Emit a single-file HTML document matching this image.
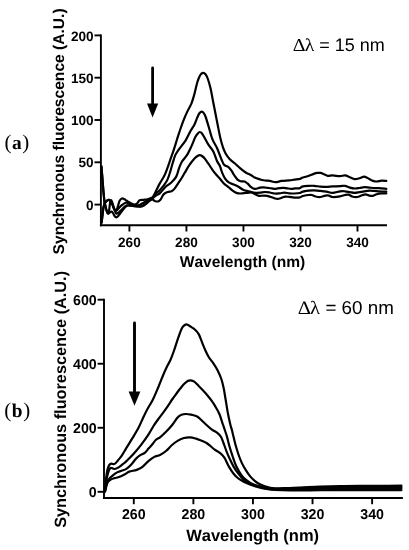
<!DOCTYPE html>
<html lang="en">
<head>
<meta charset="utf-8">
<title>Synchronous fluorescence spectra</title>
<style>
html, body { margin: 0; padding: 0; background: #ffffff; }
body { width: 409px; height: 550px; overflow: hidden; }
svg { display: block; filter: grayscale(100%); }
.sans { font-family: "Liberation Sans", Arial, Helvetica, sans-serif; }
.serif { font-family: "Liberation Serif", "Times New Roman", Times, serif; }
.b { font-weight: bold; }
.ax path { stroke: #000; stroke-width: 1.9; fill: none; stroke-linecap: butt; }
.cv path { stroke: #000; stroke-width: 2.2; fill: none; stroke-linecap: round; stroke-linejoin: round; }
text { fill: #000; font-kerning: none; text-rendering: geometricPrecision; }
</style>
</head>
<body>
<svg width="409" height="550" viewBox="0 0 409 550">
<rect x="0" y="0" width="409" height="550" fill="#ffffff"/>

<!-- panel labels -->
<text class="serif" x="4.4" y="148.8" font-size="21" letter-spacing="0.6">(<tspan class="b" font-size="19.4">a</tspan>)</text>
<text class="serif" x="4.2" y="416.8" font-size="21" letter-spacing="0.6">(<tspan class="b" font-size="19.4">b</tspan>)</text>

<!-- ================= chart (a) ================= -->
<g class="ax">
<path d="M100.90,34.40 V226.30" />
<path d="M99.90,225.30 H387.00" />
<path d="M94.50,204.60 H100.90" />
<path d="M94.50,162.30 H100.90" />
<path d="M94.50,120.00 H100.90" />
<path d="M94.50,77.70 H100.90" />
<path d="M94.50,35.40 H100.90" />
<path d="M129.41,225.30 V231.50" />
<path d="M186.43,225.30 V231.50" />
<path d="M243.45,225.30 V231.50" />
<path d="M300.47,225.30 V231.50" />
<path d="M357.49,225.30 V231.50" />
</g>
<g class="sans b">
<text x="93.60" y="209.75" text-anchor="end" font-size="13.6">0</text>
<text x="93.60" y="167.45" text-anchor="end" font-size="13.6">50</text>
<text x="93.60" y="125.15" text-anchor="end" font-size="13.6">100</text>
<text x="93.60" y="82.85" text-anchor="end" font-size="13.6">150</text>
<text x="93.60" y="40.55" text-anchor="end" font-size="13.6">200</text>
<text x="129.41" y="246.50" text-anchor="middle" font-size="13.6">260</text>
<text x="186.43" y="246.50" text-anchor="middle" font-size="13.6">280</text>
<text x="243.45" y="246.50" text-anchor="middle" font-size="13.6">300</text>
<text x="300.47" y="246.50" text-anchor="middle" font-size="13.6">320</text>
<text x="357.49" y="246.50" text-anchor="middle" font-size="13.6">340</text>
<text x="242.5" y="267.1" text-anchor="middle" font-size="15.6">Wavelength (nm)</text>
<text transform="translate(64.3,131.4) rotate(-90)" text-anchor="middle" font-size="15.6">Synchronous fluorescence (A.U.)</text>
</g>
<text class="serif" transform="translate(292.7,51.2) scale(1.1,1)" font-size="18" letter-spacing="-0.6">Δλ</text>
<text class="sans" x="384.8" y="51.2" text-anchor="end" font-size="18">= 15 nm</text>
<g class="cv">
<path d="M101.60,222.60 C101.75,221.33 102.18,217.52 102.50,215.00 C102.82,212.48 103.08,209.50 103.50,207.50 C103.92,205.50 104.45,204.12 105.00,203.00 C105.55,201.88 106.15,201.32 106.80,200.80 C107.45,200.28 108.23,199.83 108.90,199.90 C109.57,199.97 110.18,200.42 110.80,201.20 C111.42,201.98 112.03,203.30 112.60,204.60 C113.17,205.90 113.70,207.67 114.20,209.00 C114.70,210.33 115.17,211.83 115.60,212.60 C116.03,213.37 116.30,213.60 116.80,213.60 C117.30,213.60 117.82,213.23 118.60,212.60 C119.38,211.97 120.57,210.70 121.50,209.80 C122.43,208.90 123.28,207.95 124.20,207.20 C125.12,206.45 125.87,205.55 127.00,205.30 C128.13,205.05 129.72,205.55 131.00,205.70 C132.28,205.85 133.45,206.07 134.70,206.20 C135.95,206.33 137.20,206.48 138.50,206.50 C139.80,206.52 141.22,206.78 142.50,206.30 C143.78,205.82 145.03,204.58 146.20,203.60 C147.37,202.62 148.47,201.28 149.50,200.40 C150.53,199.52 151.33,199.83 152.40,198.30 C153.47,196.77 154.67,193.68 155.90,191.20 C157.13,188.72 158.40,185.97 159.80,183.40 C161.20,180.83 163.03,178.33 164.30,175.80 C165.57,173.27 166.38,170.93 167.40,168.20 C168.42,165.47 169.37,162.38 170.40,159.40 C171.43,156.42 172.50,153.62 173.60,150.30 C174.70,146.98 175.87,143.05 177.00,139.50 C178.13,135.95 179.23,132.38 180.40,129.00 C181.57,125.62 182.83,122.13 184.00,119.20 C185.17,116.27 186.15,114.05 187.40,111.40 C188.65,108.75 190.32,106.25 191.50,103.30 C192.68,100.35 193.52,97.25 194.50,93.70 C195.48,90.15 196.43,85.12 197.40,82.00 C198.37,78.88 199.37,76.52 200.30,75.00 C201.23,73.48 202.13,73.03 203.00,72.90 C203.87,72.77 204.72,73.27 205.50,74.20 C206.28,75.13 206.85,76.12 207.70,78.50 C208.55,80.88 209.75,84.92 210.60,88.50 C211.45,92.08 212.02,95.97 212.80,100.00 C213.58,104.03 214.47,108.45 215.30,112.70 C216.13,116.95 216.95,121.25 217.80,125.50 C218.65,129.75 219.55,134.60 220.40,138.20 C221.25,141.80 222.03,144.55 222.90,147.10 C223.77,149.65 224.45,151.48 225.60,153.50 C226.75,155.52 228.23,157.53 229.80,159.20 C231.37,160.87 233.25,161.97 235.00,163.50 C236.75,165.03 238.52,166.90 240.30,168.40 C242.08,169.90 243.95,171.40 245.70,172.50 C247.45,173.60 249.10,174.07 250.80,175.00 C252.50,175.93 254.03,177.27 255.90,178.10 C257.77,178.93 260.32,179.58 262.00,180.00 C263.68,180.42 264.67,180.45 266.00,180.60 C267.33,180.75 268.40,180.63 270.00,180.90 C271.60,181.17 273.68,182.20 275.60,182.20 C277.52,182.20 279.22,181.20 281.50,180.90 C283.78,180.60 287.18,180.60 289.30,180.40 C291.42,180.20 292.42,179.95 294.20,179.70 C295.98,179.45 298.68,179.22 300.00,178.90 C301.32,178.58 300.73,178.28 302.10,177.80 C303.47,177.32 306.17,176.70 308.20,176.00 C310.23,175.30 312.75,174.12 314.30,173.60 C315.85,173.08 316.48,173.02 317.50,172.90 C318.52,172.78 319.30,172.68 320.40,172.90 C321.50,173.12 322.87,173.72 324.10,174.20 C325.33,174.68 326.37,175.60 327.80,175.80 C329.23,176.00 330.67,175.33 332.70,175.40 C334.73,175.47 337.97,176.20 340.00,176.20 C342.03,176.20 343.27,175.23 344.90,175.40 C346.53,175.57 348.17,176.58 349.80,177.20 C351.43,177.82 353.07,178.93 354.70,179.10 C356.33,179.27 357.98,178.62 359.60,178.20 C361.22,177.78 362.78,176.45 364.40,176.60 C366.02,176.75 367.87,178.38 369.30,179.10 C370.73,179.82 371.77,180.50 373.00,180.90 C374.23,181.30 375.27,181.55 376.70,181.50 C378.13,181.45 380.00,180.70 381.60,180.60 C383.20,180.50 385.52,180.85 386.30,180.90" />
<path d="M101.40,166.40 C101.55,168.17 101.97,172.90 102.30,177.00 C102.63,181.10 103.03,186.75 103.40,191.00 C103.77,195.25 104.28,200.50 104.50,202.50 C104.72,204.50 104.43,201.92 104.70,203.00 C104.97,204.08 105.65,207.37 106.10,209.00 C106.55,210.63 107.05,212.07 107.40,212.80 C107.75,213.53 107.93,213.67 108.20,213.40 C108.47,213.13 108.75,212.52 109.00,211.20 C109.25,209.88 109.47,207.17 109.70,205.50 C109.93,203.83 110.13,202.07 110.40,201.20 C110.67,200.33 110.95,199.97 111.30,200.30 C111.65,200.63 112.08,201.98 112.50,203.20 C112.92,204.42 113.32,206.45 113.80,207.60 C114.28,208.75 114.87,209.87 115.40,210.10 C115.93,210.33 116.52,209.85 117.00,209.00 C117.48,208.15 117.87,206.37 118.30,205.00 C118.73,203.63 118.98,201.88 119.60,200.80 C120.22,199.72 121.18,198.75 122.00,198.50 C122.82,198.25 123.70,198.92 124.50,199.30 C125.30,199.68 125.75,200.15 126.80,200.80 C127.85,201.45 129.48,202.55 130.80,203.20 C132.12,203.85 133.58,204.73 134.70,204.70 C135.82,204.67 136.68,203.73 137.50,203.00 C138.32,202.27 138.60,200.83 139.60,200.30 C140.60,199.77 142.20,199.97 143.50,199.80 C144.80,199.63 145.93,199.68 147.40,199.30 C148.87,198.92 151.03,198.38 152.30,197.50 C153.57,196.62 153.72,195.23 155.00,194.00 C156.28,192.77 158.07,192.22 160.00,190.10 C161.93,187.98 165.02,183.98 166.60,181.30 C168.18,178.62 168.52,176.93 169.50,174.00 C170.48,171.07 171.52,166.88 172.50,163.70 C173.48,160.52 174.30,157.33 175.40,154.90 C176.50,152.47 177.38,151.53 179.10,149.10 C180.82,146.67 183.80,143.32 185.70,140.30 C187.60,137.28 189.03,133.63 190.50,131.00 C191.97,128.37 193.35,126.80 194.50,124.50 C195.65,122.20 196.52,119.15 197.40,117.20 C198.28,115.25 199.07,113.73 199.80,112.80 C200.53,111.87 201.17,111.60 201.80,111.60 C202.43,111.60 202.98,111.98 203.60,112.80 C204.22,113.62 204.67,114.22 205.50,116.50 C206.33,118.78 207.45,122.72 208.60,126.50 C209.75,130.28 211.00,135.62 212.40,139.20 C213.80,142.78 215.57,144.85 217.00,148.00 C218.43,151.15 219.82,155.30 221.00,158.10 C222.18,160.90 222.90,163.35 224.10,164.80 C225.30,166.25 227.00,165.87 228.20,166.80 C229.40,167.73 230.27,168.95 231.30,170.40 C232.33,171.85 233.37,173.97 234.40,175.50 C235.43,177.03 236.48,178.65 237.50,179.60 C238.52,180.55 239.32,180.88 240.50,181.20 C241.68,181.52 243.40,181.08 244.60,181.50 C245.80,181.92 246.67,182.82 247.70,183.70 C248.73,184.58 249.60,185.93 250.80,186.80 C252.00,187.67 253.37,188.77 254.90,188.90 C256.43,189.03 258.50,187.85 260.00,187.60 C261.50,187.35 262.60,187.35 263.90,187.40 C265.20,187.45 266.50,187.73 267.80,187.90 C269.10,188.07 270.40,188.25 271.70,188.40 C273.00,188.55 274.28,188.85 275.60,188.80 C276.92,188.75 278.28,188.27 279.60,188.10 C280.92,187.93 282.20,187.75 283.50,187.80 C284.80,187.85 286.10,188.23 287.40,188.40 C288.70,188.57 290.00,188.80 291.30,188.80 C292.60,188.80 293.75,188.52 295.20,188.40 C296.65,188.28 298.85,188.40 300.00,188.10 C301.15,187.80 300.73,186.97 302.10,186.60 C303.47,186.23 306.17,186.03 308.20,185.90 C310.23,185.77 312.27,185.67 314.30,185.80 C316.33,185.93 318.35,186.53 320.40,186.70 C322.45,186.87 324.55,186.85 326.60,186.80 C328.65,186.75 330.47,186.50 332.70,186.40 C334.93,186.30 337.97,186.30 340.00,186.20 C342.03,186.10 343.27,185.57 344.90,185.80 C346.53,186.03 348.17,187.15 349.80,187.60 C351.43,188.05 353.07,188.43 354.70,188.50 C356.33,188.57 357.98,188.22 359.60,188.00 C361.22,187.78 362.78,187.27 364.40,187.20 C366.02,187.13 367.67,187.47 369.30,187.60 C370.93,187.73 372.57,187.90 374.20,188.00 C375.83,188.10 377.08,188.07 379.10,188.20 C381.12,188.33 385.10,188.70 386.30,188.80" />
<path d="M101.60,222.60 C101.75,221.33 102.18,217.55 102.50,215.00 C102.82,212.45 103.03,209.38 103.50,207.30 C103.97,205.22 104.72,203.62 105.30,202.50 C105.88,201.38 106.38,201.03 107.00,200.60 C107.62,200.17 108.35,199.73 109.00,199.90 C109.65,200.07 110.30,200.70 110.90,201.60 C111.50,202.50 112.05,204.02 112.60,205.30 C113.15,206.58 113.67,208.35 114.20,209.30 C114.73,210.25 115.23,210.95 115.80,211.00 C116.37,211.05 116.93,210.27 117.60,209.60 C118.27,208.93 119.07,207.77 119.80,207.00 C120.53,206.23 121.02,205.70 122.00,205.00 C122.98,204.30 124.62,203.08 125.70,202.80 C126.78,202.52 127.45,202.97 128.50,203.30 C129.55,203.63 130.75,204.45 132.00,204.80 C133.25,205.15 134.67,205.42 136.00,205.40 C137.33,205.38 138.75,205.13 140.00,204.70 C141.25,204.27 142.33,203.50 143.50,202.80 C144.67,202.10 145.83,201.10 147.00,200.50 C148.17,199.90 149.53,199.62 150.50,199.20 C151.47,198.78 151.88,198.62 152.80,198.00 C153.72,197.38 154.80,196.32 156.00,195.50 C157.20,194.68 158.35,194.60 160.00,193.10 C161.65,191.60 164.07,188.22 165.90,186.50 C167.73,184.78 169.30,184.40 171.00,182.80 C172.70,181.20 174.75,179.35 176.10,176.90 C177.45,174.45 178.12,170.67 179.10,168.10 C180.08,165.53 180.67,163.70 182.00,161.50 C183.33,159.30 185.52,157.47 187.10,154.90 C188.68,152.33 190.15,149.03 191.50,146.10 C192.85,143.17 194.15,139.40 195.20,137.30 C196.25,135.20 197.03,134.38 197.80,133.50 C198.57,132.62 199.13,132.05 199.80,132.00 C200.47,131.95 201.10,132.40 201.80,133.20 C202.50,134.00 202.90,134.88 204.00,136.80 C205.10,138.72 206.85,142.25 208.40,144.70 C209.95,147.15 211.87,148.78 213.30,151.50 C214.73,154.22 215.88,158.53 217.00,161.00 C218.12,163.47 219.15,164.38 220.00,166.30 C220.85,168.22 221.25,170.45 222.10,172.50 C222.95,174.55 223.92,176.90 225.10,178.60 C226.28,180.30 227.65,181.67 229.20,182.70 C230.75,183.73 232.85,184.12 234.40,184.80 C235.95,185.48 237.13,186.03 238.50,186.80 C239.87,187.57 241.23,188.72 242.60,189.40 C243.97,190.08 245.33,190.48 246.70,190.90 C248.07,191.32 249.43,191.38 250.80,191.90 C252.17,192.42 253.70,193.40 254.90,194.00 C256.10,194.60 257.15,195.18 258.00,195.50 C258.85,195.82 258.85,195.88 260.00,195.90 C261.15,195.92 263.27,195.48 264.90,195.60 C266.53,195.72 268.17,196.13 269.80,196.60 C271.43,197.07 273.40,198.02 274.70,198.40 C276.00,198.78 276.47,198.98 277.60,198.90 C278.73,198.82 280.20,198.28 281.50,197.90 C282.80,197.52 284.10,196.77 285.40,196.60 C286.70,196.43 287.83,196.73 289.30,196.90 C290.77,197.07 292.42,197.52 294.20,197.60 C295.98,197.68 298.68,197.63 300.00,197.40 C301.32,197.17 300.73,196.60 302.10,196.20 C303.47,195.80 306.57,195.20 308.20,195.00 C309.83,194.80 310.67,194.75 311.90,195.00 C313.13,195.25 314.18,196.17 315.60,196.50 C317.02,196.83 318.78,197.15 320.40,197.00 C322.02,196.85 323.87,195.83 325.30,195.60 C326.73,195.37 327.77,195.37 329.00,195.60 C330.23,195.83 330.87,196.87 332.70,197.00 C334.53,197.13 337.97,196.73 340.00,196.40 C342.03,196.07 343.47,195.30 344.90,195.00 C346.33,194.70 347.38,194.35 348.60,194.60 C349.82,194.85 350.78,196.10 352.20,196.50 C353.62,196.90 355.47,197.20 357.10,197.00 C358.73,196.80 360.57,195.75 362.00,195.30 C363.43,194.85 364.48,194.25 365.70,194.30 C366.92,194.35 368.08,195.35 369.30,195.60 C370.52,195.85 371.77,196.02 373.00,195.80 C374.23,195.58 375.27,194.70 376.70,194.30 C378.13,193.90 380.00,193.55 381.60,193.40 C383.20,193.25 385.52,193.40 386.30,193.40" />
<path d="M101.40,166.40 C101.55,168.17 101.97,172.90 102.30,177.00 C102.63,181.10 103.02,186.67 103.40,191.00 C103.78,195.33 104.35,200.92 104.60,203.00 C104.85,205.08 104.62,202.42 104.90,203.50 C105.18,204.58 105.85,207.92 106.30,209.50 C106.75,211.08 107.22,212.33 107.60,213.00 C107.98,213.67 108.20,213.63 108.60,213.50 C109.00,213.37 109.50,212.52 110.00,212.20 C110.50,211.88 111.10,211.47 111.60,211.60 C112.10,211.73 112.52,212.30 113.00,213.00 C113.48,213.70 114.02,215.08 114.50,215.80 C114.98,216.52 115.40,217.15 115.90,217.30 C116.40,217.45 116.97,217.10 117.50,216.70 C118.03,216.30 118.43,215.73 119.10,214.90 C119.77,214.07 120.65,212.82 121.50,211.70 C122.35,210.58 123.25,209.20 124.20,208.20 C125.15,207.20 125.98,206.12 127.20,205.70 C128.42,205.28 130.20,205.63 131.50,205.70 C132.80,205.77 133.75,206.00 135.00,206.10 C136.25,206.20 137.75,206.32 139.00,206.30 C140.25,206.28 141.33,206.43 142.50,206.00 C143.67,205.57 144.83,204.57 146.00,203.70 C147.17,202.83 148.40,201.53 149.50,200.80 C150.60,200.07 151.78,199.28 152.60,199.30 C153.42,199.32 153.75,200.53 154.40,200.90 C155.05,201.27 155.80,201.45 156.50,201.50 C157.20,201.55 157.95,201.48 158.60,201.20 C159.25,200.92 159.85,200.45 160.40,199.80 C160.95,199.15 161.42,198.15 161.90,197.30 C162.38,196.45 162.73,195.42 163.30,194.70 C163.87,193.98 164.55,193.45 165.30,193.00 C166.05,192.55 166.75,192.30 167.80,192.00 C168.85,191.70 170.65,191.57 171.60,191.20 C172.55,190.83 172.85,190.45 173.50,189.80 C174.15,189.15 174.52,188.70 175.50,187.30 C176.48,185.90 178.32,183.03 179.40,181.40 C180.48,179.77 181.08,178.98 182.00,177.50 C182.92,176.02 183.68,174.55 184.90,172.50 C186.12,170.45 187.70,167.52 189.30,165.20 C190.90,162.88 193.13,160.13 194.50,158.60 C195.87,157.07 196.62,156.57 197.50,156.00 C198.38,155.43 199.05,155.20 199.80,155.20 C200.55,155.20 201.22,155.48 202.00,156.00 C202.78,156.52 203.43,157.02 204.50,158.30 C205.57,159.58 207.02,161.70 208.40,163.70 C209.78,165.70 211.37,168.33 212.80,170.30 C214.23,172.27 215.80,174.08 217.00,175.50 C218.20,176.92 218.82,177.43 220.00,178.80 C221.18,180.17 222.73,182.37 224.10,183.70 C225.47,185.03 226.83,185.68 228.20,186.80 C229.57,187.92 230.93,189.38 232.30,190.40 C233.67,191.42 235.03,192.38 236.40,192.90 C237.77,193.42 238.95,193.48 240.50,193.50 C242.05,193.52 243.98,193.17 245.70,193.00 C247.42,192.83 249.10,192.53 250.80,192.50 C252.50,192.47 254.37,192.77 255.90,192.80 C257.43,192.83 258.50,192.83 260.00,192.70 C261.50,192.57 263.27,192.03 264.90,192.00 C266.53,191.97 268.17,192.25 269.80,192.50 C271.43,192.75 273.07,193.37 274.70,193.50 C276.33,193.63 277.98,193.43 279.60,193.30 C281.22,193.17 282.78,192.70 284.40,192.70 C286.02,192.70 287.67,193.17 289.30,193.30 C290.93,193.43 292.42,193.55 294.20,193.50 C295.98,193.45 298.68,193.27 300.00,193.00 C301.32,192.73 300.73,192.28 302.10,191.90 C303.47,191.52 306.17,190.95 308.20,190.70 C310.23,190.45 312.27,190.37 314.30,190.40 C316.33,190.43 318.35,190.68 320.40,190.90 C322.45,191.12 324.55,191.37 326.60,191.70 C328.65,192.03 330.47,192.97 332.70,192.90 C334.93,192.83 337.97,191.57 340.00,191.30 C342.03,191.03 343.27,191.17 344.90,191.30 C346.53,191.43 348.17,191.83 349.80,192.10 C351.43,192.37 353.07,192.90 354.70,192.90 C356.33,192.90 357.98,192.37 359.60,192.10 C361.22,191.83 362.78,191.53 364.40,191.30 C366.02,191.07 367.67,190.77 369.30,190.70 C370.93,190.63 372.57,190.80 374.20,190.90 C375.83,191.00 377.08,191.17 379.10,191.30 C381.12,191.43 385.10,191.63 386.30,191.70" />
</g>
<!-- arrow a -->
<path d="M152.6,68 V105" stroke="#000" stroke-width="2.8" fill="none" stroke-linecap="round"/>
<path d="M147,103.6 L158.2,103.6 L152.6,117.4 Z" fill="#000"/>

<!-- ================= chart (b) ================= -->
<g class="ax">
<path d="M104.00,298.70 V499.00" />
<path d="M103.00,498.00 H402.90" />
<path d="M97.60,491.80 H104.00" />
<path d="M97.60,427.77 H104.00" />
<path d="M97.60,363.73 H104.00" />
<path d="M97.60,299.70 H104.00" />
<path d="M133.79,498.00 V504.20" />
<path d="M193.37,498.00 V504.20" />
<path d="M252.95,498.00 V504.20" />
<path d="M312.53,498.00 V504.20" />
<path d="M372.11,498.00 V504.20" />
</g>
<g class="sans b">
<text x="96.70" y="497.16" text-anchor="end" font-size="14.2">0</text>
<text x="96.70" y="433.13" text-anchor="end" font-size="14.2">200</text>
<text x="96.70" y="369.10" text-anchor="end" font-size="14.2">400</text>
<text x="96.70" y="305.06" text-anchor="end" font-size="14.2">600</text>
<text x="133.79" y="519.20" text-anchor="middle" font-size="14.2">260</text>
<text x="193.37" y="519.20" text-anchor="middle" font-size="14.2">280</text>
<text x="252.95" y="519.20" text-anchor="middle" font-size="14.2">300</text>
<text x="312.53" y="519.20" text-anchor="middle" font-size="14.2">320</text>
<text x="372.11" y="519.20" text-anchor="middle" font-size="14.2">340</text>
<text x="252.6" y="541" text-anchor="middle" font-size="16.5">Wavelength (nm)</text>
<text transform="translate(65.9,399.4) rotate(-90)" text-anchor="middle" font-size="16.3">Synchronous fluorescence (A.U.)</text>
</g>
<text class="serif" transform="translate(297.7,313.9) scale(1.1,1)" font-size="18.8" letter-spacing="-0.8">Δλ</text>
<text class="sans" x="393.8" y="313.9" text-anchor="end" font-size="18.8">= 60 nm</text>
<g class="cv">
<path d="M104.90,491.00 C105.02,489.83 105.37,486.37 105.60,484.00 C105.83,481.63 105.97,479.30 106.30,476.80 C106.63,474.30 107.10,470.97 107.60,469.00 C108.10,467.03 108.65,465.88 109.30,465.00 C109.95,464.12 110.77,463.83 111.50,463.70 C112.23,463.57 113.03,464.27 113.70,464.20 C114.37,464.13 114.77,463.97 115.50,463.30 C116.23,462.63 117.08,461.43 118.10,460.20 C119.12,458.97 120.22,457.95 121.60,455.90 C122.98,453.85 124.38,451.20 126.40,447.90 C128.42,444.60 131.62,439.58 133.70,436.10 C135.78,432.62 137.38,429.93 138.90,427.00 C140.42,424.07 141.42,421.42 142.80,418.50 C144.18,415.58 145.53,412.62 147.20,409.50 C148.87,406.38 150.93,403.55 152.80,399.80 C154.67,396.05 156.70,391.05 158.40,387.00 C160.10,382.95 161.57,378.92 163.00,375.50 C164.43,372.08 165.78,369.03 167.00,366.50 C168.22,363.97 169.18,362.80 170.30,360.30 C171.42,357.80 172.38,355.25 173.70,351.50 C175.02,347.75 176.83,341.68 178.20,337.80 C179.57,333.92 180.80,330.33 181.90,328.20 C183.00,326.07 183.95,325.62 184.80,325.00 C185.65,324.38 186.02,324.22 187.00,324.50 C187.98,324.78 189.35,325.83 190.70,326.70 C192.05,327.57 193.77,328.47 195.10,329.70 C196.43,330.93 197.60,332.15 198.70,334.10 C199.80,336.05 200.60,338.72 201.70,341.40 C202.80,344.08 204.08,347.52 205.30,350.20 C206.52,352.88 207.65,355.30 209.00,357.50 C210.35,359.70 211.93,361.20 213.40,363.40 C214.87,365.60 216.45,368.02 217.80,370.70 C219.15,373.38 220.52,376.57 221.50,379.50 C222.48,382.43 223.00,384.88 223.70,388.30 C224.40,391.72 224.98,395.75 225.70,400.00 C226.42,404.25 227.25,409.80 228.00,413.80 C228.75,417.80 229.55,421.30 230.20,424.00 C230.85,426.70 231.33,427.82 231.90,430.00 C232.47,432.18 232.92,434.35 233.60,437.10 C234.28,439.85 235.10,443.35 236.00,446.50 C236.90,449.65 238.02,453.23 239.00,456.00 C239.98,458.77 240.82,460.83 241.90,463.10 C242.98,465.37 244.15,467.43 245.50,469.60 C246.85,471.77 248.47,474.23 250.00,476.10 C251.53,477.97 253.05,479.43 254.70,480.80 C256.35,482.17 258.20,483.38 259.90,484.30 C261.60,485.22 262.88,485.68 264.90,486.30 C266.92,486.92 268.87,487.68 272.00,488.00 C275.13,488.32 279.03,488.27 283.70,488.20 C288.37,488.13 293.95,487.87 300.00,487.60 C306.05,487.33 313.33,486.87 320.00,486.60 C326.67,486.33 333.33,486.13 340.00,486.00 C346.67,485.87 353.33,485.83 360.00,485.80 C366.67,485.77 373.10,485.82 380.00,485.80 C386.90,485.78 397.83,485.72 401.40,485.70" />
<path d="M104.90,491.20 C105.05,490.17 105.50,487.10 105.80,485.00 C106.10,482.90 106.25,480.83 106.70,478.60 C107.15,476.37 107.92,473.35 108.50,471.60 C109.08,469.85 109.62,468.68 110.20,468.10 C110.78,467.52 111.27,467.95 112.00,468.10 C112.73,468.25 113.73,469.00 114.60,469.00 C115.47,469.00 116.18,468.63 117.20,468.10 C118.22,467.57 119.53,466.65 120.70,465.80 C121.87,464.95 123.25,463.78 124.20,463.00 C125.15,462.22 124.82,462.65 126.40,461.10 C127.98,459.55 131.25,456.40 133.70,453.70 C136.15,451.00 138.65,448.07 141.10,444.90 C143.55,441.73 146.33,437.85 148.40,434.70 C150.47,431.55 151.90,428.53 153.50,426.00 C155.10,423.47 156.42,421.70 158.00,419.50 C159.58,417.30 161.33,415.08 163.00,412.80 C164.67,410.52 166.42,408.10 168.00,405.80 C169.58,403.50 171.08,401.05 172.50,399.00 C173.92,396.95 175.17,395.30 176.50,393.50 C177.83,391.70 179.20,389.82 180.50,388.20 C181.80,386.58 183.10,385.00 184.30,383.80 C185.50,382.60 186.63,381.58 187.70,381.00 C188.77,380.42 189.60,380.18 190.70,380.30 C191.80,380.42 192.97,380.75 194.30,381.70 C195.63,382.65 197.23,384.53 198.70,386.00 C200.17,387.47 201.67,388.97 203.10,390.50 C204.53,392.03 205.95,393.58 207.30,395.20 C208.65,396.82 209.92,398.42 211.20,400.20 C212.48,401.98 213.65,403.63 215.00,405.90 C216.35,408.17 218.00,410.75 219.30,413.80 C220.60,416.85 221.88,421.50 222.80,424.20 C223.72,426.90 224.08,427.85 224.80,430.00 C225.52,432.15 226.32,434.35 227.10,437.10 C227.88,439.85 228.60,443.35 229.50,446.50 C230.40,449.65 231.52,453.03 232.50,456.00 C233.48,458.97 234.32,461.73 235.40,464.30 C236.48,466.87 237.72,469.23 239.00,471.40 C240.28,473.57 241.27,475.43 243.10,477.30 C244.93,479.17 247.85,481.27 250.00,482.60 C252.15,483.93 254.00,484.57 256.00,485.30 C258.00,486.03 260.00,486.52 262.00,487.00 C264.00,487.48 265.83,487.88 268.00,488.20 C270.17,488.52 271.33,488.82 275.00,488.90 C278.67,488.98 284.17,488.85 290.00,488.70 C295.83,488.55 303.33,488.20 310.00,488.00 C316.67,487.80 323.33,487.62 330.00,487.50 C336.67,487.38 342.50,487.35 350.00,487.30 C357.50,487.25 366.43,487.22 375.00,487.20 C383.57,487.18 397.00,487.20 401.40,487.20" />
<path d="M105.00,491.40 C105.15,490.67 105.62,488.42 105.90,487.00 C106.18,485.58 106.13,484.30 106.70,482.90 C107.27,481.50 108.42,479.72 109.30,478.60 C110.18,477.48 110.77,477.20 112.00,476.20 C113.23,475.20 115.10,473.50 116.70,472.60 C118.30,471.70 119.98,471.43 121.60,470.80 C123.22,470.17 124.78,469.87 126.40,468.80 C128.02,467.73 129.67,466.12 131.30,464.40 C132.93,462.68 134.77,460.02 136.20,458.50 C137.63,456.98 138.47,456.25 139.90,455.30 C141.33,454.35 143.37,453.92 144.80,452.80 C146.23,451.68 147.30,449.95 148.50,448.60 C149.70,447.25 150.75,446.17 152.00,444.70 C153.25,443.23 154.67,441.03 156.00,439.80 C157.33,438.57 158.28,438.68 160.00,437.30 C161.72,435.92 164.20,433.63 166.30,431.50 C168.40,429.37 170.72,426.82 172.60,424.50 C174.48,422.18 176.12,419.22 177.60,417.60 C179.08,415.98 180.10,415.40 181.50,414.80 C182.90,414.20 184.42,414.03 186.00,414.00 C187.58,413.97 189.33,414.27 191.00,414.60 C192.67,414.93 194.72,415.50 196.00,416.00 C197.28,416.50 197.17,416.30 198.70,417.60 C200.23,418.90 203.05,421.83 205.20,423.80 C207.35,425.77 209.58,427.90 211.60,429.40 C213.62,430.90 215.77,431.62 217.30,432.80 C218.83,433.98 219.80,434.88 220.80,436.50 C221.80,438.12 222.35,440.03 223.30,442.50 C224.25,444.97 225.37,448.45 226.50,451.30 C227.63,454.15 228.92,457.05 230.10,459.60 C231.28,462.15 232.22,464.25 233.60,466.60 C234.98,468.95 236.82,471.62 238.40,473.70 C239.98,475.78 241.17,477.42 243.10,479.10 C245.03,480.78 247.85,482.65 250.00,483.80 C252.15,484.95 254.00,485.37 256.00,486.00 C258.00,486.63 260.00,487.15 262.00,487.60 C264.00,488.05 265.83,488.38 268.00,488.70 C270.17,489.02 271.33,489.35 275.00,489.50 C278.67,489.65 284.17,489.68 290.00,489.60 C295.83,489.52 303.33,489.15 310.00,489.00 C316.67,488.85 323.33,488.77 330.00,488.70 C336.67,488.63 342.50,488.62 350.00,488.60 C357.50,488.58 366.43,488.60 375.00,488.60 C383.57,488.60 397.00,488.60 401.40,488.60" />
<path d="M105.10,491.60 C105.30,490.73 105.82,488.00 106.30,486.40 C106.78,484.80 107.20,483.17 108.00,482.00 C108.80,480.83 110.00,480.05 111.10,479.40 C112.20,478.75 113.43,478.45 114.60,478.10 C115.77,477.75 116.93,477.67 118.10,477.30 C119.27,476.93 120.45,476.42 121.60,475.90 C122.75,475.38 123.72,474.92 125.00,474.20 C126.28,473.48 127.35,472.32 129.30,471.60 C131.25,470.88 134.50,470.68 136.70,469.90 C138.90,469.12 140.55,468.37 142.50,466.90 C144.45,465.43 146.43,462.77 148.40,461.10 C150.37,459.43 152.37,457.92 154.30,456.90 C156.23,455.88 158.05,455.98 160.00,455.00 C161.95,454.02 164.00,452.67 166.00,451.00 C168.00,449.33 170.00,446.73 172.00,445.00 C174.00,443.27 176.00,441.77 178.00,440.60 C180.00,439.43 182.00,438.53 184.00,438.00 C186.00,437.47 188.00,437.30 190.00,437.40 C192.00,437.50 194.55,438.23 196.00,438.60 C197.45,438.97 197.53,439.17 198.70,439.60 C199.87,440.03 201.70,440.63 203.00,441.20 C204.30,441.77 205.33,442.27 206.50,443.00 C207.67,443.73 208.63,444.50 210.00,445.60 C211.37,446.70 213.12,448.43 214.70,449.60 C216.28,450.77 217.92,451.30 219.50,452.60 C221.08,453.90 222.63,455.07 224.20,457.40 C225.77,459.73 227.33,463.88 228.90,466.60 C230.47,469.32 232.02,471.72 233.60,473.70 C235.18,475.68 236.62,477.12 238.40,478.50 C240.18,479.88 242.37,480.98 244.30,482.00 C246.23,483.02 247.97,483.80 250.00,484.60 C252.03,485.40 254.50,486.20 256.50,486.80 C258.50,487.40 260.08,487.80 262.00,488.20 C263.92,488.60 265.83,488.90 268.00,489.20 C270.17,489.50 271.33,489.78 275.00,490.00 C278.67,490.22 284.17,490.45 290.00,490.50 C295.83,490.55 303.33,490.35 310.00,490.30 C316.67,490.25 323.33,490.22 330.00,490.20 C336.67,490.18 342.50,490.20 350.00,490.20 C357.50,490.20 366.43,490.20 375.00,490.20 C383.57,490.20 397.00,490.20 401.40,490.20" />
</g>
<!-- arrow b -->
<path d="M134.5,323 V393" stroke="#000" stroke-width="2.9" fill="none" stroke-linecap="round"/>
<path d="M128.6,391.5 L140.4,391.5 L134.5,405.8 Z" fill="#000"/>
</svg>
</body>
</html>
